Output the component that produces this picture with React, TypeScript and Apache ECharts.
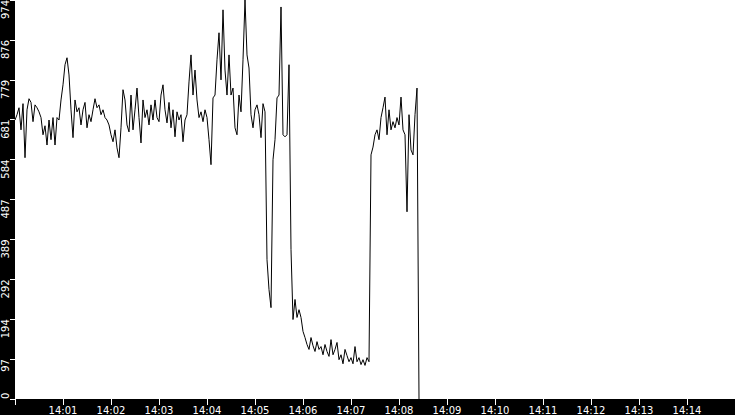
import React, { useEffect, useRef } from "react";
import * as echarts from "echarts";

// time axis: 14:00 to 14:15, one sample every 2.5 s from 14:00:00
const startTime = new Date(2024, 0, 1, 14, 0, 0).getTime();
const endTime = new Date(2024, 0, 1, 14, 15, 0).getTime();
const stepMs = 2500;

const yMax = 974;
const yInterval = 97.4;

const values: number[] = [
  681, 694, 711, 657, 721, 589, 706, 733, 724, 677,
  718, 711, 701, 687, 645, 667, 620, 681, 633, 687,
  620, 687, 681, 730, 767, 816, 833, 791, 706, 638,
  730, 701, 711, 669, 706, 724, 662, 694, 677, 706,
  733, 711, 718, 694, 706, 687, 681, 669, 645, 628,
  657, 613, 589, 662, 755, 730, 669, 652, 742, 657,
  706,
  759, 687, 625, 730, 687, 706, 669, 718, 681, 730,
  687, 677, 742, 767, 706, 674, 724, 662, 706, 640,
  701, 681, 694, 628, 681, 694, 774, 840, 742, 803,
  730, 687, 701, 677, 706, 687, 633, 572, 735, 742,
  828, 894, 779, 950, 803, 742, 840, 742, 759, 662,
  645, 742, 701, 828, 974,
  840, 808, 694, 662, 706, 718, 694, 638, 721, 701,
  340, 267, 223, 584, 633, 735, 742, 957, 645, 640,
  645, 816, 365, 194, 243, 199, 218, 199, 165, 150,
  133, 121, 150, 130, 116, 140, 121, 128, 108, 133,
  116, 104, 145, 108, 121, 138, 96, 108, 86, 121,
  106, 91, 101, 86, 128, 91, 101, 84, 96, 82,
  101, 91, 596, 615, 645, 657, 633, 687, 711, 737,
  645, 706, 657, 677, 662, 687, 669, 737, 657, 645,
  457, 694, 608, 596, 694, 759, 0,
];

function pad(n: number) {
  return n < 10 ? "0" + n : String(n);
}

export default function App() {
  const ref = useRef<HTMLDivElement>(null);
  useEffect(() => {
    if (!ref.current) return;
    const chart = echarts.init(ref.current, null, { renderer: "svg" });
    const data = values.map((v, i) => [startTime + i * stepMs, v]);
    const font = "DejaVu Sans";
    chart.setOption({
      animation: false,
      backgroundColor: "#000",
      grid: {
        left: 15,
        right: 0,
        top: 0,
        bottom: 16,
        show: true,
        backgroundColor: "#fff",
        borderWidth: 0,
        containLabel: false,
        outerBoundsMode: "none",
      },
      xAxis: {
        type: "time",
        min: startTime,
        max: endTime,
        minInterval: 60000,
        maxInterval: 60000,
        axisLine: { show: false },
        axisTick: { show: true, length: 6, lineStyle: { color: "#fff", width: 1 } },
        minorTick: { show: false },
        splitLine: { show: false },
        axisLabel: {
          color: "#fff",
          fontFamily: font,
          fontSize: 10,
          margin: 6,
          formatter: (v: number) => {
            if (v <= startTime || v >= endTime) return "";
            const d = new Date(v);
            return pad(d.getHours()) + ":" + pad(d.getMinutes());
          },
        },
      },
      yAxis: {
        type: "value",
        min: 0,
        max: yMax,
        interval: yInterval,
        axisLine: { show: false },
        axisTick: { show: true, length: 5, lineStyle: { color: "#fff", width: 1 } },
        splitLine: { show: false },
        axisLabel: {
          color: "#fff",
          fontFamily: font,
          fontSize: 10,
          rotate: 90,
          margin: 5,
          align: "right",
          verticalAlign: "bottom",
          alignMinLabel: "left",
          showMinLabel: true,
          showMaxLabel: true,
          formatter: (v: number) => String(Math.floor(v + 1e-6)),
        },
      },
      series: [
        {
          type: "line",
          data,
          showSymbol: false,
          symbol: "none",
          lineStyle: { color: "#000", width: 1 },
          itemStyle: { color: "#000" },
        },
      ],
    });
    return () => chart.dispose();
  }, []);
  return (
    <div
      ref={ref}
      style={{ position: "absolute", left: 0, top: 0, width: 735, height: 415 }}
    />
  );
}
